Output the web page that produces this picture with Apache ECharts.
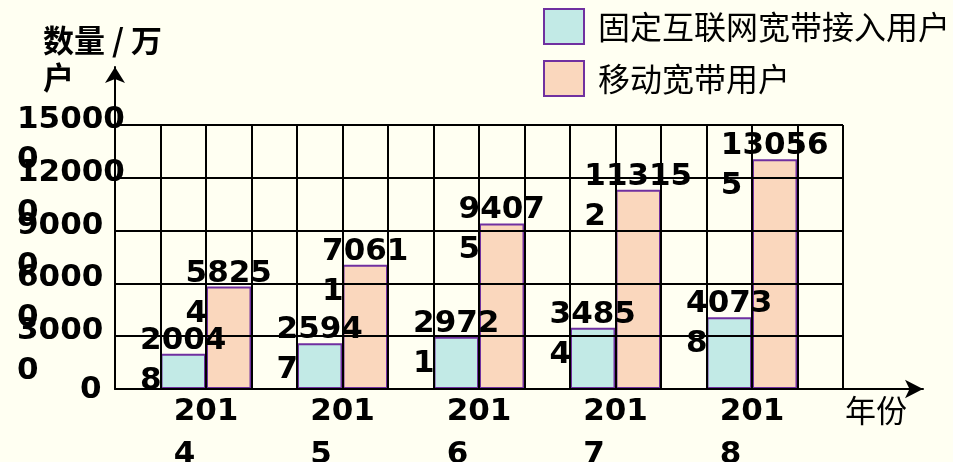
<!DOCTYPE html>
<html>
<head>
<meta charset="utf-8">
<script src="https://cdn.jsdelivr.net/npm/echarts@6/dist/echarts.min.js"></script>
<style>
  html, body { margin: 0; padding: 0; background: #fffff2; }
  #chart { width: 953px; height: 462px; }
</style>
</head>
<body>
<div id="chart"></div>
<script>
  // 数据
  const years = ['2014', '2015', '2016', '2017', '2018']
  const fixedUsers = [20048, 25947, 29721, 34854, 40738]   // 固定互联网宽带接入用户
  const mobileUsers = [58254, 70611, 94075, 113152, 130565] // 移动宽带用户
  const seriesNames = ['固定互联网宽带接入用户', '移动宽带用户']
  const yMax = 150000
  const yStep = 30000

  const numFont = 'DejaVu Sans'
  const cjkFont = 'Noto Sans CJK SC'

  // 原图文本框太窄，最后一位数字总是被挤到下一行
  function wrapLast(s) {
    s = String(s)
    return s.length > 1 ? [s.slice(0, -1), s.slice(-1)] : [s]
  }
  function richLines(s) {
    return wrapLast(s).map(l => '{a|' + l + '}').join('\n')
  }

  const chart = echarts.init(document.getElementById('chart'))

  const hidden = { show: false }
  const line = { lineStyle: { color: '#000', width: 2 } }

  const barLabel = {
    show: true,
    position: 'top',
    distance: -7,
    verticalAlign: 'middle',
    fontFamily: numFont, fontSize: 31, fontWeight: 'bold', color: '#000',
    lineHeight: 40,
    formatter: p => richLines(p.value),
    rich: { a: { align: 'left' } }
  }

  // y 轴刻度标签（两条轴叠在一起：一条画两端，一条画中间，避免被自动隐藏）
  function yLabel(showEnds, formatter) {
    return {
      showMinLabel: showEnds,
      showMaxLabel: showEnds,
      align: 'left',
      verticalAlign: 'middle',
      margin: 98,
      padding: [30, 0, 0, 0],
      fontFamily: numFont, fontSize: 31, fontWeight: 'bold', color: '#000',
      lineHeight: 40,
      formatter: formatter,
      rich: {
        a: { align: 'left' },
        z: { padding: [0, 0, 28, 63] }
      }
    }
  }

  const option = {
    animation: false,
    backgroundColor: '#fffff2',
    title: {
      text: '数量 / 万\n户',
      left: 43,
      top: 22,
      padding: 0,
      textStyle: {
        fontFamily: cjkFont,
        fontSize: 31,
        fontWeight: 'bold',
        lineHeight: 37,
        color: '#000'
      }
    },
    legend: {
      orient: 'vertical',
      left: 543,
      top: 8,
      padding: 0,
      itemWidth: 40,
      itemHeight: 35,
      itemGap: 15,
      icon: 'rect',
      itemStyle: { borderColor: '#7030a0', borderWidth: 2 },
      textStyle: {
        fontFamily: cjkFont,
        fontSize: 32,
        color: '#000',
        padding: [0, 0, 0, 9]
      },
      data: seriesNames
    },
    grid: [
      // 带箭头的坐标轴
      { left: 115, right: 30, top: 67, bottom: 73, outerBoundsMode: 'none' },
      // 网格线
      { left: 115, right: 110, top: 125, bottom: 73, outerBoundsMode: 'none' },
      // 柱子
      { left: 137.75, right: 132.75, top: 125, bottom: 73, outerBoundsMode: 'none' }
    ],
    xAxis: [
      {
        gridIndex: 0, type: 'value', min: 0, max: 1, z: 3,
        axisLine: { show: true, symbol: ['none', 'arrow'], symbolSize: [14, 18], ...line },
        axisTick: hidden, axisLabel: hidden, splitLine: hidden
      },
      {
        gridIndex: 1, type: 'value', min: 0, max: 16, interval: 1, z: 3,
        name: '年份',
        nameLocation: 'end',
        nameGap: 2,
        nameTextStyle: {
          fontFamily: cjkFont, fontSize: 31, color: '#000',
          align: 'left', verticalAlign: 'top', padding: [6, 0, 0, 0]
        },
        axisLine: hidden, axisTick: hidden, axisLabel: hidden,
        splitLine: { show: true, ...line }
      },
      {
        gridIndex: 2, type: 'category', data: years,
        axisLine: hidden, axisTick: hidden,
        axisLabel: {
          interval: 0,
          margin: 1,
          fontFamily: numFont, fontSize: 31, fontWeight: 'bold', color: '#000',
          lineHeight: 43,
          formatter: v => richLines(v),
          rich: { a: { align: 'left' } }
        }
      }
    ],
    yAxis: [
      {
        gridIndex: 0, type: 'value', min: 0, max: 1, z: 3,
        axisLine: { show: true, symbol: ['none', 'arrow'], symbolSize: [15, 16], ...line },
        axisTick: hidden, axisLabel: hidden, splitLine: hidden
      },
      {
        gridIndex: 1, type: 'value', position: 'left', min: 0, max: yMax, interval: yStep, z: 3,
        axisLine: hidden, axisTick: hidden,
        splitLine: { show: true, ...line },
        axisLabel: yLabel(true, v => v === 0 ? '{z|0}' : v === yMax ? richLines(v) : '')
      },
      {
        gridIndex: 2, type: 'value', min: 0, max: yMax,
        axisLine: hidden, axisTick: hidden, axisLabel: hidden, splitLine: hidden
      },
      {
        gridIndex: 1, type: 'value', position: 'left', offset: 0, min: 0, max: yMax, interval: yStep, z: 3,
        axisLine: hidden, axisTick: hidden, splitLine: hidden,
        axisLabel: yLabel(false, v => richLines(v))
      }
    ],
    series: [
      {
        name: seriesNames[0],
        type: 'bar',
        xAxisIndex: 2,
        yAxisIndex: 2,
        data: fixedUsers,
        barWidth: 45.5,
        barGap: '0%',
        itemStyle: { color: '#c2eae6', borderColor: '#7030a0', borderWidth: 2 },
        label: barLabel
      },
      {
        name: seriesNames[1],
        type: 'bar',
        xAxisIndex: 2,
        yAxisIndex: 2,
        data: mobileUsers,
        barWidth: 45.5,
        barGap: '0%',
        itemStyle: { color: '#fad7bd', borderColor: '#7030a0', borderWidth: 2 },
        label: barLabel
      }
    ]
  }

  chart.setOption(option)
</script>
</body>
</html>
